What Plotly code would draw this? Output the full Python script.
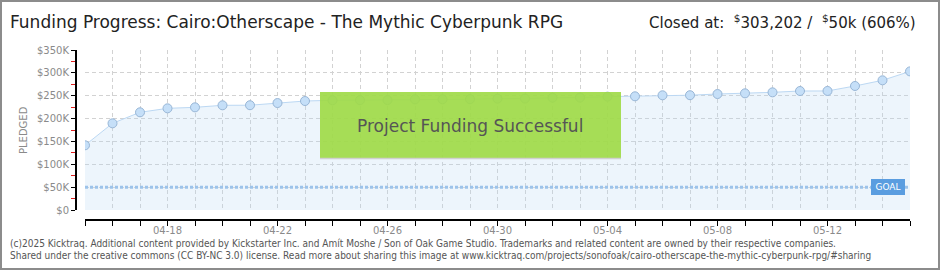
import plotly.graph_objects as go
import datetime as dt

# ---- data ----
start = dt.date(2025, 4, 15)
dates = [(start + dt.timedelta(days=i)).isoformat() for i in range(31)]
pledged = [141500, 189600, 213700, 222400, 224600, 229000, 229200, 234000, 238400, 240000,
           240200, 240400, 242000, 242200, 242400, 243600, 243800, 245700, 246000, 248000,
           248700, 250900, 251100, 253700, 255200, 257400, 260300, 260400, 271300, 283700,
           303202]
goal = 50000
y_tickvals = [0, 50000, 100000, 150000, 200000, 250000, 300000, 350000]
y_ticktext = ["$0", "$50K", "$100K", "$150K", "$200K", "$250K", "$300K", "$350K"]
x_ticktext = [d[5:] if (i % 4 == 3) else "" for i, d in enumerate(dates)]

W, H = 940, 270
ML, MR, MT, MB = 76, 30, 50, 50
PW, PH = W - ML - MR, H - MT - MB


def px(x):
    return (x - ML) / PW


def py(y):
    return (H - MB - y) / PH


fig = go.Figure()
fig.add_trace(go.Scatter(
    x=dates, y=pledged, mode="lines+markers",
    line=dict(color="#bcd8f3", width=1),
    fill="tozeroy", fillcolor="rgba(185,215,245,0.25)",
    marker=dict(size=9, color="#c5dff8", line=dict(color="#98b6d6", width=1)),
    hoverinfo="skip", showlegend=False))
fig.add_trace(go.Scatter(
    x=[dates[0], dates[-1]], y=[goal, goal], mode="lines",
    line=dict(color="#9dc3ea", width=3, dash="3px,2px"),
    hoverinfo="skip", showlegend=False))

grid = dict(gridcolor="#d2d2d2", griddash="4px,3px", gridwidth=1)
tickfont = dict(family="DejaVu Sans", size=10, color="#8a8a8a")

fig.update_layout(
    width=W, height=H, margin=dict(l=ML, r=MR, t=MT, b=MB),
    paper_bgcolor="white", plot_bgcolor="white",
    xaxis=dict(type="date", range=[dates[0], dates[-1]], domain=[px(85), 1],
               anchor="free", position=0,
               tickmode="array", tickvals=dates, ticktext=x_ticktext,
               showline=True, linecolor="black", linewidth=2,
               ticks="outside", ticklen=5, tickcolor="black", tickwidth=1,
               ticklabelstandoff=-4,
               tickfont=tickfont, showgrid=True, zeroline=False, **grid),
    yaxis=dict(range=[0, 350000], domain=[py(210), 1],
               anchor="free", position=0,
               tickmode="array", tickvals=y_tickvals, ticktext=y_ticktext,
               showline=True, linecolor="black", linewidth=2,
               ticks="outside", ticklen=4, tickcolor="black", tickwidth=1,
               minor=dict(tickmode="array", tickvals=[25000, 75000, 125000, 175000, 225000, 275000, 325000],
                          ticks="outside", ticklen=4, tickcolor="#e02020", tickwidth=1, showgrid=False),
               tickfont=tickfont, showgrid=True, zeroline=False, **grid),
)

title_font = "Liberation Sans Narrow, Arial Narrow, DejaVu Sans, sans-serif"
anns = [
    dict(x=px(8), y=py(22), text="Funding Progress: Cairo:Otherscape - The Mythic Cyberpunk RPG",
         xanchor="left", yanchor="middle", font=dict(family=title_font, size=17, color="#222")),
    dict(x=px(918), y=py(22), text="Closed at:  <sup>$</sup>303,202 /  <sup>$</sup>50k (606%)",
         xanchor="right", yanchor="middle", font=dict(family=title_font, size=15, color="#222")),
    dict(x=px(23), y=py(130), text="PLEDGED", textangle=-90,
         xanchor="center", yanchor="middle", font=dict(family="DejaVu Sans", size=10, color="#8a8a8a")),
    dict(x=px(470), y=py(126), text="Project Funding Successful",
         xanchor="center", yanchor="middle", font=dict(family=title_font, size=17, color="#555")),
    dict(x=px(888), y=py(187), text="GOAL", xanchor="center", yanchor="middle",
         bgcolor="#5a9de0", bordercolor="#5a9de0", borderpad=2, width=28,
         font=dict(family="DejaVu Sans", size=9, color="white")),
    dict(x=px(8), y=py(243), text="(c)2025 Kicktraq. Additional content provided by Kickstarter Inc. and Amít Moshe / Son of Oak Game Studio. Trademarks and related content are owned by their respective companies.",
         xanchor="left", yanchor="middle", font=dict(family="DejaVu Sans Condensed, DejaVu Sans", size=10, color="#555")),
    dict(x=px(8), y=py(256), text="Shared under the creative commons (CC BY-NC 3.0) license. Read more about sharing this image at www.kicktraq.com/projects/sonofoak/cairo-otherscape-the-mythic-cyberpunk-rpg/#sharing",
         xanchor="left", yanchor="middle", font=dict(family="DejaVu Sans Condensed, DejaVu Sans", size=10, color="#555")),
]
for a in anns:
    a.setdefault("xref", "paper")
    a.setdefault("yref", "paper")
    a.setdefault("showarrow", False)
    fig.add_annotation(**a)

fig.add_shape(type="rect", xref="paper", yref="paper",
              x0=px(320), x1=px(621), y0=py(158), y1=py(92),
              fillcolor="rgba(160,218,72,0.92)", line=dict(color="#c8c8c8", width=0), layer="above")
fig.add_shape(type="line", xref="paper", yref="paper",
              x0=px(320), x1=px(621), y0=py(158.5), y1=py(158.5),
              line=dict(color="#d0d0d0", width=1.5), layer="above")
fig.add_shape(type="rect", xref="paper", yref="paper",
              x0=px(1), x1=px(939), y0=py(269), y1=py(1),
              line=dict(color="#8c8c8c", width=2), fillcolor="rgba(0,0,0,0)", layer="above")

fig.write_html("out.html")
